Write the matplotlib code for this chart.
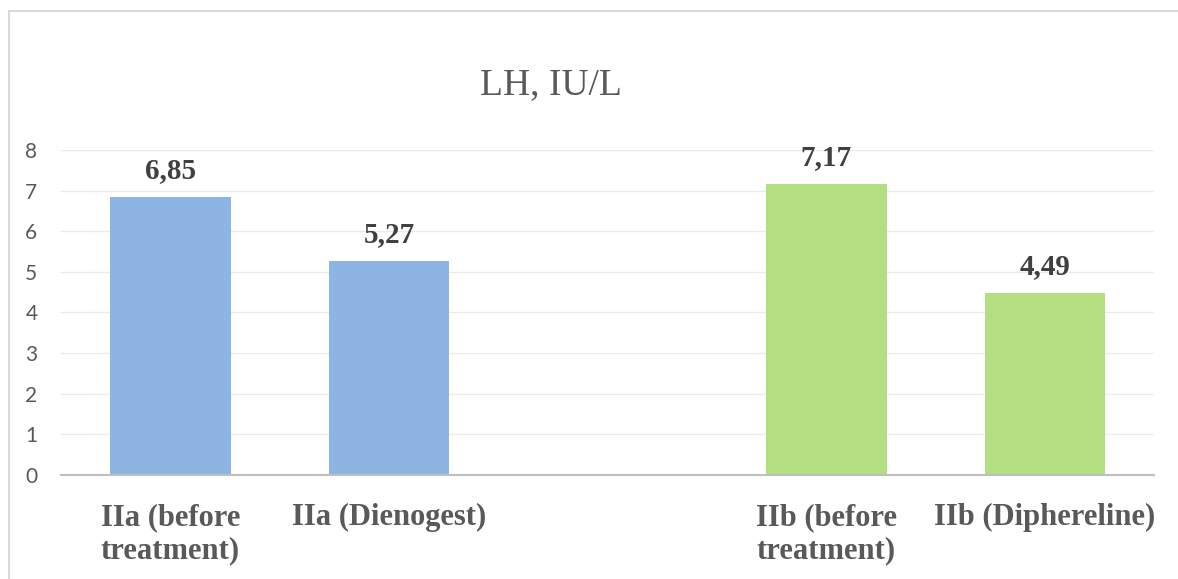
import numpy as np
import matplotlib.pyplot as plt
from matplotlib.patches import Rectangle

# dane
pozycje = [0, 1, 3, 4]
etykiety = ['IIa (before\ntreatment)', 'IIa (Dienogest)', 'IIb (before\ntreatment)', 'IIb (Diphereline)']
wartosci = [6.85, 5.27, 7.17, 4.49]
kolory = ['#8DB4E2', '#8DB4E2', '#B3DE81', '#B3DE81']

fig = plt.figure(figsize=(11.78, 5.79), dpi=100)
ax = fig.add_axes([0.0518, 0.1796, 0.9282, 0.5614])

# ramka wykresu
fig.patches.append(Rectangle((9 / 1178, -0.1), 1.2, 1 - 11 / 579 + 0.1,
                             transform=fig.transFigure, fill=False,
                             edgecolor='#d9d9d9', linewidth=1.5))

ax.bar(pozycje, wartosci, width=0.55, color=kolory, zorder=2)

for x, v in zip(pozycje, wartosci):
    ax.annotate(f'{v:.2f}'.replace('.', ','), (x, v), xytext=(0, 9),
                textcoords='offset points', ha='center', va='bottom',
                fontsize=21, fontweight='bold', family='Liberation Serif',
                color='#404040')

ax.set_xlim(-0.5, 4.5)
ax.set_ylim(0, 8)
ax.set_yticks(range(0, 9))
ax.set_xticks(pozycje)
ax.set_xticklabels(etykiety, fontsize=22, fontweight='bold',
                   family='Liberation Serif', color='#595959', linespacing=1.2)
ax.tick_params(axis='x', length=0, pad=20)
ax.tick_params(axis='y', length=0, pad=17, labelsize=15, labelcolor='#595959')
for lab in ax.get_yticklabels():
    lab.set_family('Lato')

ax.grid(axis='y', color='#ebebeb', linewidth=1, zorder=0)
for s in ['top', 'right', 'left']:
    ax.spines[s].set_visible(False)
ax.spines['bottom'].set_color('#bfbfbf')
ax.spines['bottom'].set_linewidth(1.5)

fig.text(0.468, 0.853, 'LH, IU/L', ha='center', va='center', fontsize=27,
         family='Liberation Serif', color='#595959')

fig.savefig('out.png', dpi=100)
